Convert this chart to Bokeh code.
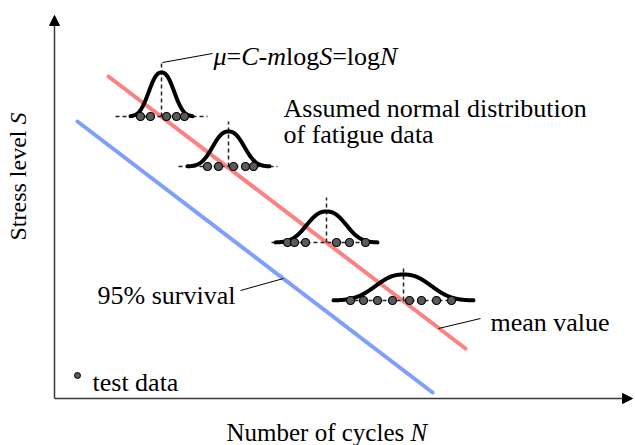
import numpy as np
from bokeh.plotting import figure
from bokeh.models import Range1d, Arrow, NormalHead
from bokeh.core.properties import value
from bokeh.embed import file_html
from bokeh.resources import INLINE

# ---- data (N: cycles axis units, S: stress axis units) ----
mean_N = [54, 411]
mean_S = [322, 50]
surv_N = [23, 378]
surv_S = [277, 6]

dist_center = [107, 174, 272, 349]
dist_base = [282, 232, 156, 98]
dist_height = [44, 35, 31, 26]
dist_width = [16, 20, 25, 35]
dist_half = [31, 41, 51, 70]
dash_left = [61, 124, 217, 279]
dash_right = [153, 223, 324, 418]
dist_top = [336, 277, 201, 131]
test_N = [[86, 96, 112, 122, 130],
          [153, 164, 179, 191, 199],
          [233, 240, 251, 282, 295, 311],
          [296, 309, 323, 338, 355, 367, 382, 397]]

legend_dot = (23, 23)

FONT = "Liberation Serif"
REG = {' ': 250, '%': 833, '5': 500, '9': 500, '=': 564, '-': 333, 'A': 722, 'N': 722,
       'S': 556, 'a': 444, 'b': 500, 'c': 444, 'd': 500, 'e': 444, 'f': 333, 'g': 500,
       'i': 278, 'l': 278, 'm': 778, 'n': 500, 'o': 500, 'r': 333, 's': 389, 't': 278,
       'u': 500, 'v': 500, 'y': 500}
ITA = {'μ': 500, 'C': 667, 'm': 722, 'S': 500, 'N': 667}


def tw(s, it):
    t = ITA if it else REG
    return sum(t.get(c, 500) for c in s)


p = figure(width=635, height=445, x_range=Range1d(-54, 581), y_range=Range1d(-47, 398),
           output_backend="svg", toolbar_location=None, min_border=0)
p.axis.visible = False
p.grid.visible = False
p.outline_line_color = None
p.background_fill_color = "white"
p.border_fill_color = "white"


def txt(x, y, s, size=26, italic=False, angle=0, align="left", baseline="alphabetic"):
    p.text(x=[x], y=[y], text=[s], angle=angle, text_align=align, text_baseline=baseline,
           text_font=value(FONT), text_font_size=value(f"{size}px"),
           text_font_style=value("italic" if italic else "normal"), text_color="black")


def rich(x, y, pieces, size=26, angle=0, baseline="alphabetic"):
    off = 0.0
    for s, it in pieces:
        if angle == 0:
            txt(x + off, y, s, size, it, 0, "left", baseline)
        else:
            txt(x, y + off, s, size, it, angle, "left", baseline)
        off += tw(s, it) * size / 1000.0


# axes with arrows
axc = "#3a3a3a"
p.add_layout(Arrow(end=NormalHead(size=10, fill_color="black", line_color="black"),
                   x_start=0, y_start=0, x_end=0, y_end=383, line_color=axc, line_width=1.5))
p.add_layout(Arrow(end=NormalHead(size=10, fill_color="black", line_color="black"),
                   x_start=0, y_start=0, x_end=578, y_end=0, line_color=axc, line_width=1.5))

# S-N lines
p.line(mean_N, mean_S, line_color="#FF8080", line_width=4, line_cap="round")
p.line(surv_N, surv_S, line_color="#7F9FFF", line_width=4, line_cap="round")

# distributions
for c, b, h, a, hw, dl, dr, top, pts in zip(dist_center, dist_base, dist_height, dist_width,
                                             dist_half, dash_left, dash_right, dist_top, test_N):
    p.line([dl, dr], [b, b], line_color="#222222", line_width=1.5, line_dash="4 3")
    p.line([c, c], [b, top], line_color="#222222", line_width=1.5, line_dash="4 3")
    xs = np.linspace(c - hw, c + hw, 240)
    ys = b + h * np.exp(-np.abs((xs - c) / a) ** 2.4)
    p.line(xs, ys, line_color="black", line_width=4, line_join="round", line_cap="round")
    p.scatter(pts, [b] * len(pts), size=8, fill_color="#5a5a5a", line_color="black", line_width=1.2)

# leader lines
p.line([108, 158], [336, 345], line_color="black", line_width=1)
p.line([186, 229], [108, 120], line_color="black", line_width=1)
p.line([384, 426], [70, 80], line_color="black", line_width=1)

# texts
rich(159, 342, [("μ", True), ("=", False), ("C", True), ("-", False), ("m", True),
                ("log", False), ("S", True), ("=", False), ("log", False), ("N", True)])
txt(229, 290, "Assumed normal distribution")
txt(229, 264, "of fatigue data")
txt(43, 103, "95% survival")
txt(436, 76, "mean value")
p.scatter([legend_dot[0]], [legend_dot[1]], size=6, fill_color="#5a5a5a", line_color="black", line_width=1)
txt(38, 16, "test data")
rich(172, -34, [("Number of cycles ", False), ("N", True)], size=25)
rich(-37, 158, [("Stress level ", False), ("S", True)], size=24, angle=np.pi / 2, baseline="middle")

open("out.html", "w").write(file_html(p, INLINE))
